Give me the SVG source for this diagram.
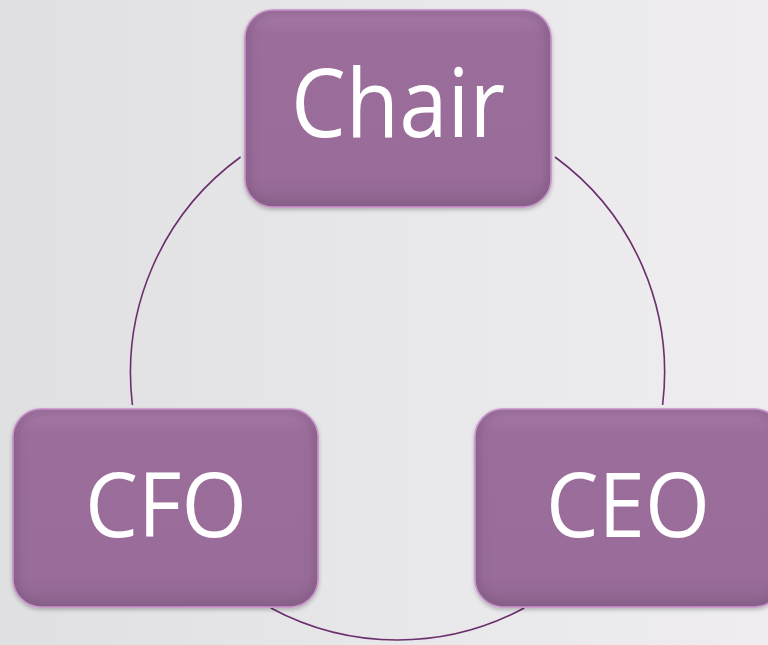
<svg xmlns="http://www.w3.org/2000/svg" width="768" height="645" viewBox="0 0 768 645">
<defs>
<linearGradient id="bg" x1="0" y1="0" x2="1" y2="0">
<stop offset="0" stop-color="#e0e0e2"/>
<stop offset="1" stop-color="#efedf0"/>
</linearGradient>
<linearGradient id="boxfill" x1="0" y1="0" x2="0" y2="1">
<stop offset="0" stop-color="#a97ba9"/>
<stop offset="0.12" stop-color="#9b6d9b"/>
<stop offset="0.85" stop-color="#996c99"/>
<stop offset="1" stop-color="#8f6690"/>
</linearGradient>
<filter id="shadow" x="-10%" y="-10%" width="120%" height="125%">
<feGaussianBlur in="SourceAlpha" stdDeviation="2"/>
<feOffset dx="0" dy="2" result="b"/>
<feFlood flood-color="#000" flood-opacity="0.25"/>
<feComposite in2="b" operator="in"/>
<feMerge><feMergeNode/><feMergeNode in="SourceGraphic"/></feMerge>
</filter>
<filter id="inner" x="-5%" y="-5%" width="110%" height="110%">
<feGaussianBlur stdDeviation="5"/>
</filter>
<style>
.box{fill:url(#boxfill);stroke:#c995cb;stroke-width:1.5}
.bevel{fill:none;stroke:#6e4a70;stroke-opacity:0.4;stroke-width:10}
.lbl{font-family:"Open Sans","Liberation Sans",sans-serif;fill:#ffffff;text-anchor:middle}
.arc{fill:none;stroke:#6a2f6c;stroke-width:1.6}
</style>
<clipPath id="c1"><rect x="245" y="10" width="306" height="197" rx="28"/></clipPath>
<clipPath id="c2"><rect x="13" y="409" width="305" height="198" rx="28"/></clipPath>
<clipPath id="c3"><rect x="475" y="409" width="307" height="198" rx="28"/></clipPath>
</defs>
<rect width="768" height="645" fill="url(#bg)"/>
<g id="connectors">
<path class="arc" d="M240.6,157 A267,267 0 0 0 132.4,405"/>
<path class="arc" d="M555,157 A267,267 0 0 1 662.6,405"/>
<path class="arc" d="M524.2,608 A267,267 0 0 1 270.8,608"/>
</g>
<g id="chair">
<g filter="url(#shadow)"><rect class="box" x="245" y="10" width="306" height="197" rx="28"/></g>
<g clip-path="url(#c1)"><rect class="bevel" x="245" y="10" width="306" height="197" rx="28" filter="url(#inner)"/></g>
<rect x="245" y="10" width="306" height="197" rx="28" fill="none" stroke="#c995cb" stroke-width="1.2"/>
<text class="lbl" x="398" y="137" font-size="95" textLength="214" lengthAdjust="spacingAndGlyphs">Chair</text>
</g>
<g id="cfo">
<g filter="url(#shadow)"><rect class="box" x="13" y="409" width="305" height="198" rx="28"/></g>
<g clip-path="url(#c2)"><rect class="bevel" x="13" y="409" width="305" height="198" rx="28" filter="url(#inner)"/></g>
<rect x="13" y="409" width="305" height="198" rx="28" fill="none" stroke="#c995cb" stroke-width="1.2"/>
<text class="lbl" x="166" y="537" font-size="90" textLength="162" lengthAdjust="spacingAndGlyphs">CFO</text>
</g>
<g id="ceo">
<g filter="url(#shadow)"><rect class="box" x="475" y="409" width="307" height="198" rx="28"/></g>
<g clip-path="url(#c3)"><rect class="bevel" x="475" y="409" width="307" height="198" rx="28" filter="url(#inner)"/></g>
<rect x="475" y="409" width="307" height="198" rx="28" fill="none" stroke="#c995cb" stroke-width="1.2"/>
<text class="lbl" x="628" y="537" font-size="90" textLength="164" lengthAdjust="spacingAndGlyphs">CEO</text>
</g>
</svg>
